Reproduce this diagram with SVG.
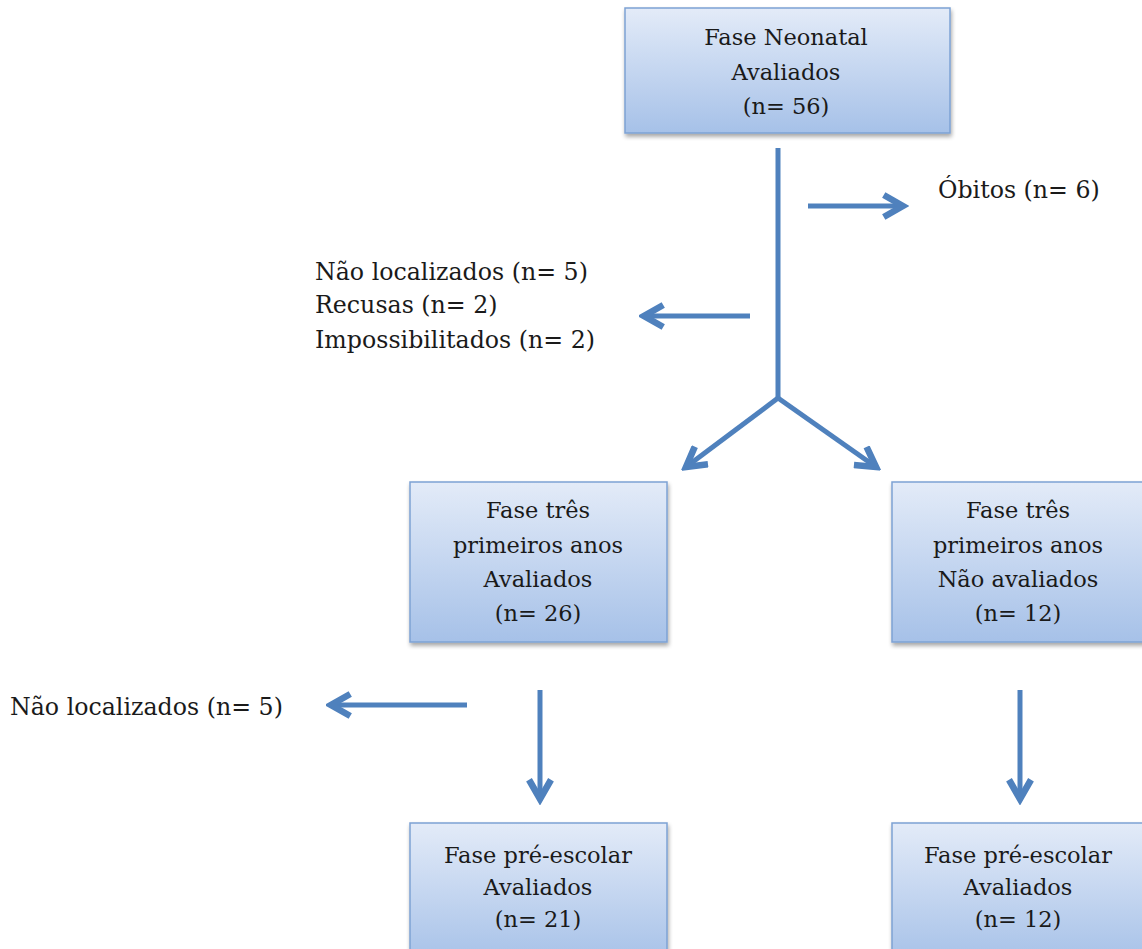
<svg xmlns="http://www.w3.org/2000/svg" width="1142" height="949" viewBox="0 0 1142 949">
<defs>
<linearGradient id="g" x1="0" y1="0" x2="0" y2="1">
<stop offset="0" stop-color="#e3ebf8"/>
<stop offset="1" stop-color="#a6c1e8"/>
</linearGradient>
<filter id="sh" x="-10%" y="-10%" width="130%" height="130%">
<feGaussianBlur in="SourceAlpha" stdDeviation="2"/>
<feOffset dx="1" dy="3"/>
<feComponentTransfer><feFuncA type="linear" slope="0.35"/></feComponentTransfer>
<feMerge><feMergeNode/><feMergeNode in="SourceGraphic"/></feMerge>
</filter>
<marker id="ah" viewBox="0 0 10 10" refX="8" refY="5" markerWidth="5.5" markerHeight="5.5" orient="auto" markerUnits="strokeWidth">
<path d="M1,1 L8,5 L1,9" fill="none" stroke="#4f81bd" stroke-width="2.4" stroke-linejoin="miter"/>
</marker>
</defs>
<style>
.box{fill:url(#g);stroke:#7da2d4;stroke-width:1.5;filter:url(#sh)}
.t{font-family:"DejaVu Serif","Liberation Serif",serif;font-size:22.5px;fill:#1a1a1a}
.l{font-size:23.7px}
.c{text-anchor:middle}
.a{fill:none;stroke:#4f81bd;stroke-width:5;stroke-linecap:butt}
</style>
<rect width="1142" height="949" fill="#ffffff"/>
<g id="n1"><rect class="box" x="625" y="8" width="325" height="125"/>
<text class="t c" x="786" y="45">Fase Neonatal</text>
<text class="t c" x="786" y="80">Avaliados</text>
<text class="t c" x="786" y="114">(n= 56)</text></g>
<g id="n2"><rect class="box" x="410" y="482" width="257" height="160"/>
<text class="t c" x="538" y="518">Fase três</text>
<text class="t c" x="538" y="553">primeiros  anos</text>
<text class="t c" x="538" y="587">Avaliados</text>
<text class="t c" x="538" y="621">(n= 26)</text></g>
<g id="n3"><rect class="box" x="892" y="482" width="256" height="160"/>
<text class="t c" x="1018" y="518">Fase três</text>
<text class="t c" x="1018" y="553">primeiros  anos</text>
<text class="t c" x="1018" y="587">Não avaliados</text>
<text class="t c" x="1018" y="621">(n= 12)</text></g>
<g id="n4"><rect class="box" x="410" y="823" width="257" height="140"/>
<text class="t c" x="538" y="863">Fase pré-escolar</text>
<text class="t c" x="538" y="895">Avaliados</text>
<text class="t c" x="538" y="927">(n= 21)</text></g>
<g id="n5"><rect class="box" x="892" y="823" width="256" height="140"/>
<text class="t c" x="1018" y="863">Fase pré-escolar</text>
<text class="t c" x="1018" y="895">Avaliados</text>
<text class="t c" x="1018" y="927">(n= 12)</text></g>
<g id="labels">
<text class="t l" x="938" y="198">Óbitos (n= 6)</text>
<text class="t l" x="315" y="280">Não localizados (n= 5)</text>
<text class="t l" x="315" y="313">Recusas (n= 2)</text>
<text class="t l" x="315" y="348">Impossibilitados (n= 2)</text>
<text class="t l" x="10" y="715">Não localizados (n= 5)</text>
</g>
<g id="connectors">
<line class="a" x1="778" y1="148" x2="778" y2="398"/>
<polyline class="a" points="778,398 686,467" marker-end="url(#ah)"/>
<polyline class="a" points="778,398 876,467" marker-end="url(#ah)"/>
<line class="a" x1="808" y1="206" x2="903" y2="206" marker-end="url(#ah)"/>
<line class="a" x1="750" y1="316" x2="644" y2="316" marker-end="url(#ah)"/>
<line class="a" x1="467" y1="705" x2="331" y2="705" marker-end="url(#ah)"/>
<line class="a" x1="540" y1="690" x2="540" y2="799" marker-end="url(#ah)"/>
<line class="a" x1="1020" y1="690" x2="1020" y2="799" marker-end="url(#ah)"/>
</g>
</svg>
